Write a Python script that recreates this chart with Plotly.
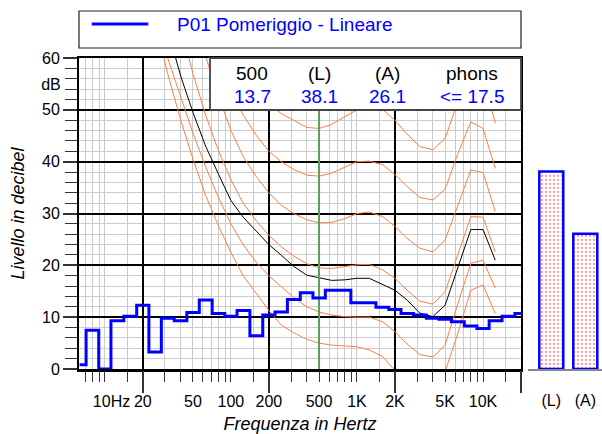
import plotly.graph_objects as go

# ── dati: spettro a terzi d'ottava ─────────────────────────────────
bands_hz = [6.3, 8, 10, 12.5, 16, 20, 25, 31.5, 40, 50, 63, 80, 100, 125, 160,
            200, 250, 315, 400, 500, 630, 800, 1000, 1250, 1600, 2000, 2500,
            3150, 4000, 5000, 6300, 8000, 10000, 12500, 16000, 20000]
level_db = [0.8, 7.5, 0.0, 9.3, 10.2, 12.3, 3.3, 9.8, 9.3, 10.9, 13.3, 10.7, 10.2,
            11.3, 6.4, 10.4, 11.0, 13.4, 14.7, 13.7, 15.2, 15.2, 12.8, 12.8, 11.9,
            11.5, 10.7, 10.4, 9.8, 9.6, 9.1, 8.3, 7.8, 9.3, 10.2, 10.7]

# ── curve isofoniche ───────────────────────────────────────────────
iso_hz = [20, 25, 31.5, 40, 50, 63, 80, 100, 125, 160, 200, 250, 315, 400, 500,
          630, 800, 1000, 1250, 1600, 2000, 2500, 3150, 4000, 5000, 6300, 8000,
          10000, 12500]
curve_maf = [76, 67, 57, 48, 40.5, 33.5, 27.5, 22.5, 18, 14.5, 11.3, 8.5, 7, 5.7, 5.0,
             4.6, 4.4, 4.3, 3.7, 2.4, -0.3, -3, -4.8, -5, -0.5, 6.8, 15.2, 16.2, 10.7]
curve_10 = [80, 70, 60, 52.5, 45.5, 39, 33, 28, 24, 20.5, 18, 15.9, 13.8, 12.0, 11.0,
            10.4, 10.1, 10.0, 10.0, 9.1, 7.2, 4.8, 2.8, 2.3, 4.6, 12.5, 20.4, 21.0, 15.6]
curve_20 = [98, 87, 77, 66, 57, 49, 42, 36.5, 32, 28.5, 25.8, 23.6, 21.8, 20.3, 19.5,
            19.4, 19.8, 20.1, 20.2, 19.1, 17.5, 15.2, 13.1, 12.5, 14.9, 22, 29.4, 29.3, 22.6]
curve_30 = [104, 95, 86, 77, 68, 60.3, 52.5, 46, 41, 37, 34, 31.6, 30, 28.8, 28.2,
            28.3, 29, 30, 30.3, 29.4, 27.5, 25.2, 23.3, 22.6, 24.9, 31.5, 38.4, 37.9, 30.4]
curve_40 = [107, 99, 91, 83, 75, 67, 60, 54, 49, 45, 42, 40.0, 38.5, 37.4, 37.2,
            37.8, 39, 40, 40.1, 39.4, 37.5, 35.2, 33.1, 32.6, 34.7, 41.5, 47.7, 46.4, 38.7]
curve_50 = [112, 104, 96, 88, 80, 73, 67, 62, 57.5, 54, 51, 49.3, 48, 46.6, 46.4,
            47.2, 48.7, 50, 50.5, 50, 48, 45.3, 42.9, 42.3, 44.5, 51.5, 57.5, 56.5, 47.4]
curve_175 = [86, 75, 65.5, 56.5, 49.5, 43, 37.5, 32.5, 29.3, 26.5, 24, 22, 19.8, 18.1, 17.6,
             17.1, 17.2, 17.5, 17.5, 16.3, 15.2, 13.3, 10.8, 10.1, 12.3, 19.5, 26.9, 26.9, 21.0]

marker_hz = 500

# ── livelli globali ────────────────────────────────────────────────
total_labels = ["(L)", "(A)"]
total_db = [38.1, 26.1]

table_head = ["500", "(L)", "(A)", "phons"]
table_vals = ["13.7", "38.1", "26.1", "<= 17.5"]

legend_text = "P01 Pomeriggio - Lineare"

# ── assi ───────────────────────────────────────────────────────────
major_hz = [20, 200, 2000, 20000]
minor_hz = [7, 8, 9, 10, 15, 30, 40, 50, 60, 70, 80, 90, 100, 150, 300, 400, 500, 600,
            700, 800, 900, 1000, 1500, 3000, 4000, 5000, 6000, 7000, 8000, 9000,
            10000, 15000]
label_hz = [10, 20, 50, 100, 200, 500, 1000, 2000, 5000, 10000]
label_txt = ["\u00a0\u00a0\u00a010Hz", "20", "50", "100", "200", "500", "1K", "2K", "5K", "10K"]

FONT = "Liberation Sans, Arial, sans-serif"
ORANGE = "#ff7f40"
BLUE = "#0000ff"

fig = go.Figure()

for curve in [curve_maf, curve_10, curve_20, curve_30, curve_40, curve_50]:
    fig.add_trace(go.Scatter(x=iso_hz, y=curve, mode="lines",
                             line=dict(color=ORANGE, width=1), hoverinfo="skip"))
fig.add_trace(go.Scatter(x=iso_hz, y=curve_175, mode="lines",
                         line=dict(color="black", width=1), hoverinfo="skip"))
fig.add_trace(go.Scatter(x=[marker_hz, marker_hz], y=[0, 60], mode="lines",
                         line=dict(color="#5aa05a", width=2), hoverinfo="skip"))
fig.add_trace(go.Scatter(x=bands_hz, y=level_db, mode="lines",
                         line=dict(color=BLUE, width=3, shape="hvh")))

# traccia vuota per far disegnare gli assi sovrapposti (etichette)
fig.add_trace(go.Scatter(x=[1000], y=[-100], mode="markers", xaxis="x3", yaxis="y3",
                         marker=dict(size=1, opacity=0), hoverinfo="skip"))

# barre (L) e (A)
fig.add_trace(go.Bar(x=[0, 1], y=total_db, width=0.706, xaxis="x2", yaxis="y2",
                     marker=dict(color="white", line=dict(color=BLUE, width=2.5),
                                 pattern=dict(shape=".", fgcolor="#ff3030",
                                              bgcolor="white", size=4, solidity=0.25))))

xrange = [0.795, 4.301]
xdom = [0, 0.8451]

fig.update_layout(
    width=602, height=434,
    margin=dict(l=79, r=0, t=58, b=65, autoexpand=False),
    paper_bgcolor="white", plot_bgcolor="white",
    showlegend=False,
    font=dict(family=FONT, size=16, color="black"),
    xaxis=dict(type="log", range=xrange, domain=xdom, anchor="y", automargin=False,
               showline=True, linecolor="black", linewidth=2, mirror=True,
               tickmode="array", tickvals=major_hz, ticks="outside", ticklen=22,
               tickwidth=1.5, tickcolor="#333", showticklabels=False,
               showgrid=True, gridcolor="black", gridwidth=1.5, zeroline=False,
               minor=dict(tickmode="array", tickvals=minor_hz, ticks="outside",
                          ticklen=11, tickwidth=1.2, tickcolor="#333",
                          showgrid=True, gridcolor="#cccccc", gridwidth=1)),
    xaxis3=dict(type="log", range=xrange, domain=xdom, anchor="y", overlaying="x",
                side="bottom", automargin=False,
                showline=True, linecolor="black", linewidth=3,
                tickmode="array", tickvals=label_hz, ticktext=label_txt,
                ticks="outside", ticklen=16, tickcolor="rgba(0,0,0,0)",
                showgrid=False, zeroline=False,
                tickfont=dict(size=16),
                title=dict(text="<i>Frequenza in Hertz</i>", standoff=10,
                           font=dict(size=18))),
    yaxis=dict(range=[0, 60], domain=[0, 1], anchor="x", automargin=False,
               showline=True, linecolor="black", linewidth=2, mirror=True,
               tickmode="array", tickvals=[0, 10, 20, 30, 40, 50, 60],
               ticks="outside", ticklen=14, tickwidth=1.5, tickcolor="#333",
               showgrid=True, gridcolor="black", gridwidth=1.5, zeroline=False,
               tickfont=dict(size=16),
               title=dict(text="<i>Livello in decibel</i>", font=dict(size=18),
                          standoff=13),
               minor=dict(dtick=2, ticks="outside", ticklen=12, tickwidth=1.2,
                          tickcolor="#333", showgrid=True, gridcolor="#cccccc",
                          gridwidth=1)),
    yaxis3=dict(range=[0, 60], anchor="x", overlaying="y", side="left",
                automargin=False,
                tickmode="array", tickvals=[55], ticktext=["dB"],
                ticks="outside", ticklen=14, tickcolor="rgba(0,0,0,0)",
                showgrid=False, zeroline=False, showline=False,
                tickfont=dict(size=16)),
    xaxis2=dict(domain=[0.8585, 1], range=[-0.685, 1.491], anchor="y2",
                automargin=False,
                showline=True, linecolor="#888", linewidth=2,
                tickmode="array", tickvals=[0, 1], ticktext=total_labels,
                ticks="outside", ticklen=16, tickcolor="rgba(0,0,0,0)",
                showgrid=False, zeroline=False, tickfont=dict(size=16)),
    yaxis2=dict(range=[0, 60], domain=[0, 1], anchor="x2", visible=False),
)

# riquadro legenda
fig.add_shape(type="rect", xref="paper", yref="paper", x0=0, x1=0.8451,
              y0=1.0322, y1=1.1511, line=dict(color="#222", width=1.2),
              fillcolor="white")
fig.add_shape(type="line", xref="paper", yref="paper", x0=0.0243, x1=0.1325,
              y0=1.1093, y1=1.1093, line=dict(color=BLUE, width=3))
fig.add_annotation(xref="paper", yref="paper", x=0.1836, y=1.1093, text=legend_text,
                   showarrow=False, xanchor="left", yanchor="middle",
                   font=dict(size=19, color=BLUE))

# tabella dei valori
fig.add_shape(type="rect", xref="paper", yref="paper", x0=0.2505, x1=0.8451,
              y0=0.8328, y1=1.0, line=dict(color="#444", width=1.8),
              fillcolor="white", layer="above")
col_x = [0.3314, 0.4608, 0.5899, 0.7509]
for cx, head, val in zip(col_x, table_head, table_vals):
    fig.add_annotation(xref="paper", yref="paper", x=cx, y=0.9508, text=head,
                       showarrow=False, xanchor="center", yanchor="middle",
                       font=dict(size=19, color="black"))
    fig.add_annotation(xref="paper", yref="paper", x=cx, y=0.8756, text=val,
                       showarrow=False, xanchor="center", yanchor="middle",
                       font=dict(size=19, color=BLUE))

# la pagina ha 8px di margine di default: lo azzero
fig.write_html("out.html", config={"displayModeBar": False},
               post_script="document.body.style.margin='0px';")
